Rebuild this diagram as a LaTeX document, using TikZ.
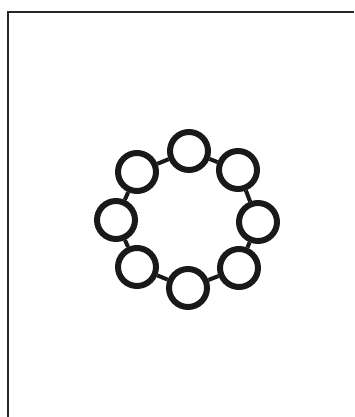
\documentclass[tikz,border=0pt]{standalone}
\begin{document}
\begin{tikzpicture}[x=1pt,y=-1pt,
  ring/.style={circle,draw=black!90,line width=6pt,minimum size=38pt,inner sep=0pt},
  link/.style={draw=black!90,line width=4pt},
  frameline/.style={draw=black!85,line width=1.8pt}]
\useasboundingbox (0,0) rectangle (354,417);
\coordinate (tl) at (8,12);
\coordinate (tr) at (354,12);
\coordinate (bl) at (8,417);
\draw[frameline] (tr) -- (tl) -- (bl);
\node[ring] (n1) at (189,151) {};
\node[ring] (n2) at (238,170) {};
\node[ring] (n3) at (258,222) {};
\node[ring] (n4) at (239,268) {};
\node[ring] (n5) at (188,288) {};
\node[ring] (n6) at (137,267) {};
\node[ring] (n7) at (116,220) {};
\node[ring] (n8) at (137,172) {};
\foreach \a/\b in {n1/n2,n2/n3,n3/n4,n4/n5,n5/n6,n6/n7,n7/n8,n8/n1}
  \path[link] (\a) -- (\b);
\end{tikzpicture}
\end{document}
